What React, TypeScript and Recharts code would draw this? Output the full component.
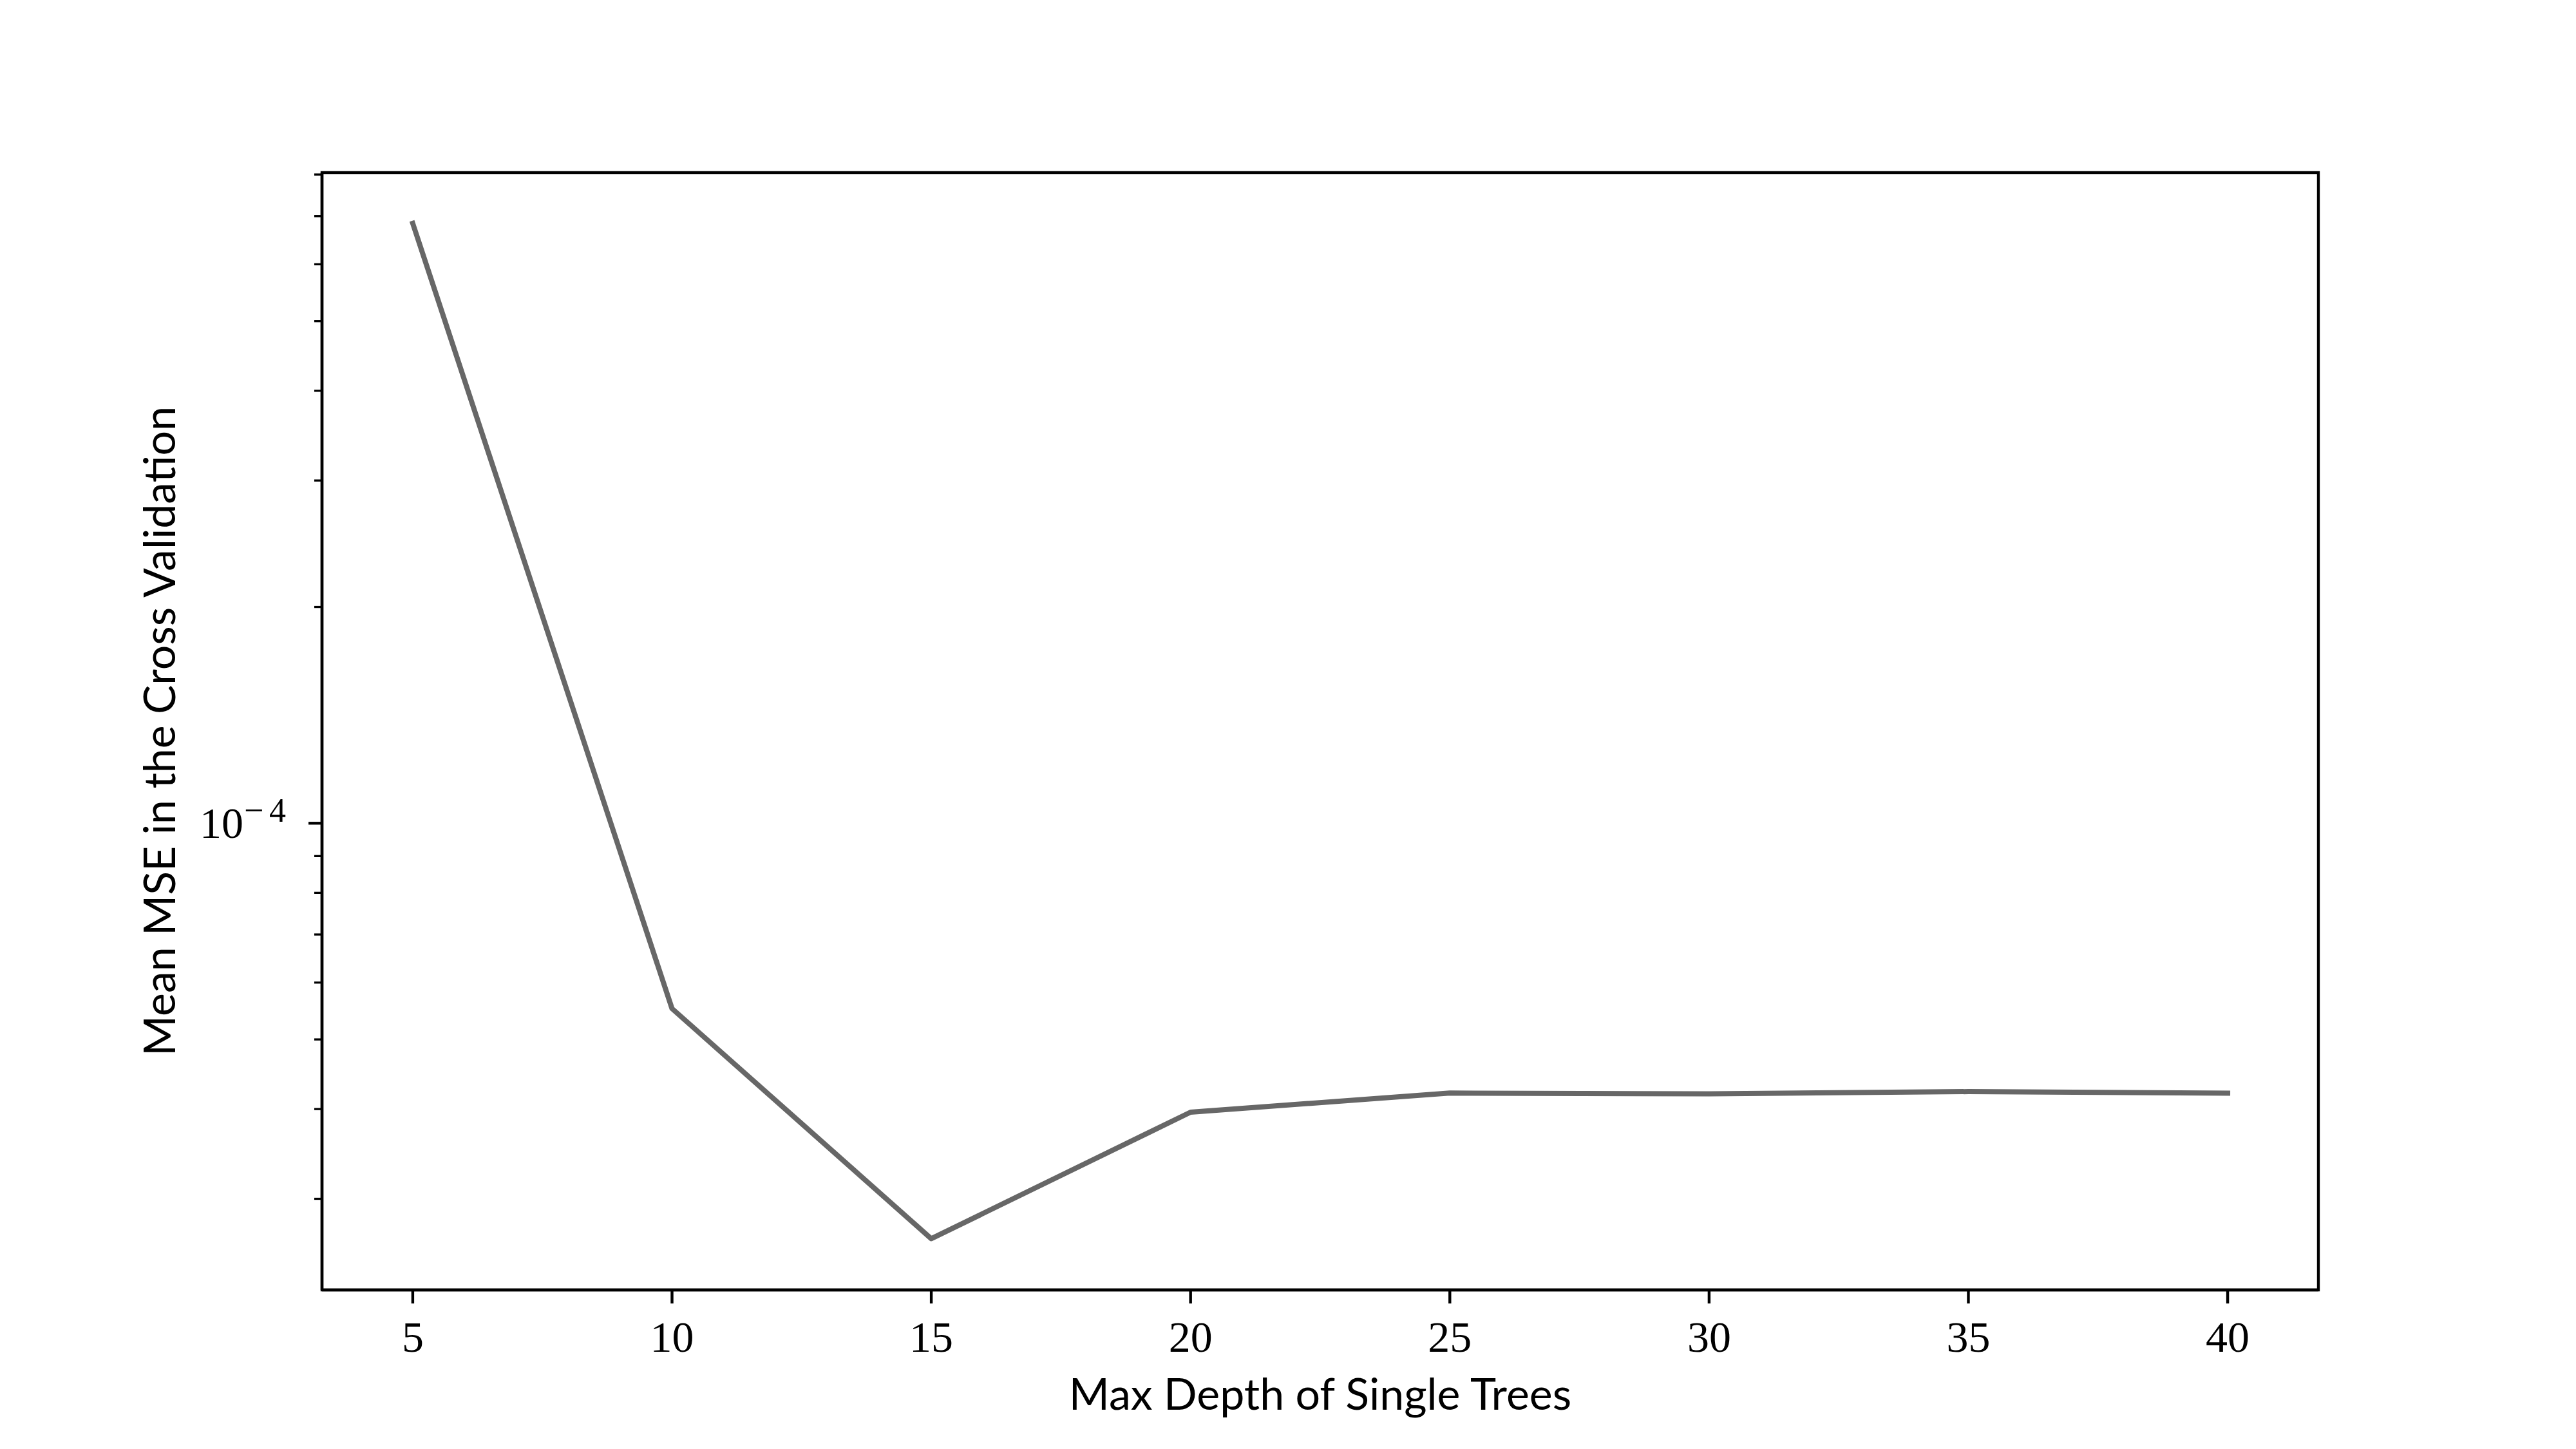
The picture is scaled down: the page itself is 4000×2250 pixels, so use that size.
import { LineChart, Line, XAxis, YAxis, ReferenceArea } from "recharts";

const depths = [5, 10, 15, 20, 25, 30, 35, 40];
const meanMse = [6.84e-4, 5.52e-5, 2.64e-5, 3.96e-5, 4.21e-5, 4.2e-5, 4.23e-5, 4.21e-5];

const xTicks = [5, 10, 15, 20, 25, 30, 35, 40];
const yMajorTicks = [1e-4];
const yMinorTicks = [3e-5, 4e-5, 5e-5, 6e-5, 7e-5, 8e-5, 9e-5, 2e-4, 3e-4, 4e-4, 5e-4, 6e-4, 7e-4, 8e-4];

const xDomain = [3.25, 41.75];
const yDomain = [2.24e-5, 8.05e-4];

const xLabel = "Max Depth of Single Trees";
const yLabel = "Mean MSE in the Cross Validation";

const data = depths.map((d, i) => ({ depth: d, mse: meanMse[i] }));

const W = 4000;
const H = 2250;
const PLOT = { left: 500, right: 3600, top: 268, bottom: 2003 };
const SERIF = "'Liberation Serif', 'DejaVu Serif', serif";
const SANS = "Lato, 'Open Sans', sans-serif";

function YTick({ y, payload }: any) {
  const ax = PLOT.left;
  const major = yMajorTicks.includes(payload.value);
  const exp = Math.round(Math.log10(payload.value));
  return (
    <g>
      <line x1={ax} x2={ax - (major ? 21 : 12)} y1={y} y2={y} stroke="#000" strokeWidth={major ? 4.4 : 3.3} />
      {major && (
        <g fontFamily={SERIF} fill="#000">
          <text x={ax - 190} y={y + 23} fontSize={68}>
            10
          </text>
          <text x={ax - 121} y={y - 2} fontSize={54}>
            {exp < 0 ? "\u2212" : ""}
          </text>
          <text x={ax - 82} y={y - 2} fontSize={52}>
            {Math.abs(exp)}
          </text>
        </g>
      )}
    </g>
  );
}

function XTick({ x, y, payload }: any) {
  return (
    <g>
      <line x1={x} x2={x} y1={y} y2={y + 21} stroke="#000" strokeWidth={4.4} />
      <text x={x} y={y + 96} textAnchor="middle" fontFamily={SERIF} fontSize={68} fill="#000">
        {payload.value}
      </text>
    </g>
  );
}

export default function App() {
  const midY = (PLOT.top + PLOT.bottom) / 2;
  return (
    <div style={{ position: "absolute", left: 0, top: 0, background: "#fff" }}>
      <LineChart
        width={W}
        height={H}
        data={data}
        margin={{ top: PLOT.top, right: W - PLOT.right, left: PLOT.left - 200, bottom: H - PLOT.bottom - 200 }}
      >
        <XAxis
          dataKey="depth"
          type="number"
          domain={xDomain}
          allowDataOverflow
          ticks={xTicks}
          interval={0}
          height={200}
          tickSize={0}
          tickMargin={0}
          tickLine={false}
          tick={<XTick />}
          axisLine={{ stroke: "#000", strokeWidth: 4.4 }}
          label={() => (
            <text
              x={(PLOT.left + PLOT.right) / 2}
              y={2189}
              textAnchor="middle"
              fontFamily={SANS}
              fontSize={68}
              fill="#000"
            >
              {xLabel}
            </text>
          )}
        />
        <YAxis
          scale="log"
          type="number"
          domain={yDomain}
          allowDataOverflow
          ticks={[...yMinorTicks, ...yMajorTicks]}
          interval={0}
          width={200}
          tickSize={0}
          tickMargin={0}
          tickLine={false}
          tick={<YTick />}
          axisLine={{ stroke: "#000", strokeWidth: 4.4 }}
          label={() => (
            <text
              x={272}
              y={midY}
              transform={`rotate(-90 272 ${midY})`}
              textAnchor="middle"
              fontFamily={SANS}
              fontSize={68}
              fill="#000"
            >
              {yLabel}
            </text>
          )}
        />
        {/* frame on all four sides, like matplotlib spines */}
        <ReferenceArea
          x1={xDomain[0]}
          x2={xDomain[1]}
          y1={yDomain[0]}
          y2={yDomain[1]}
          fill="none"
          stroke="#000"
          strokeWidth={4.4}
          ifOverflow="visible"
        />
        <Line
          dataKey="mse"
          type="linear"
          stroke="#676767"
          strokeWidth={8}
          strokeLinecap="square"
          strokeLinejoin="round"
          dot={false}
          isAnimationActive={false}
        />
      </LineChart>
    </div>
  );
}
